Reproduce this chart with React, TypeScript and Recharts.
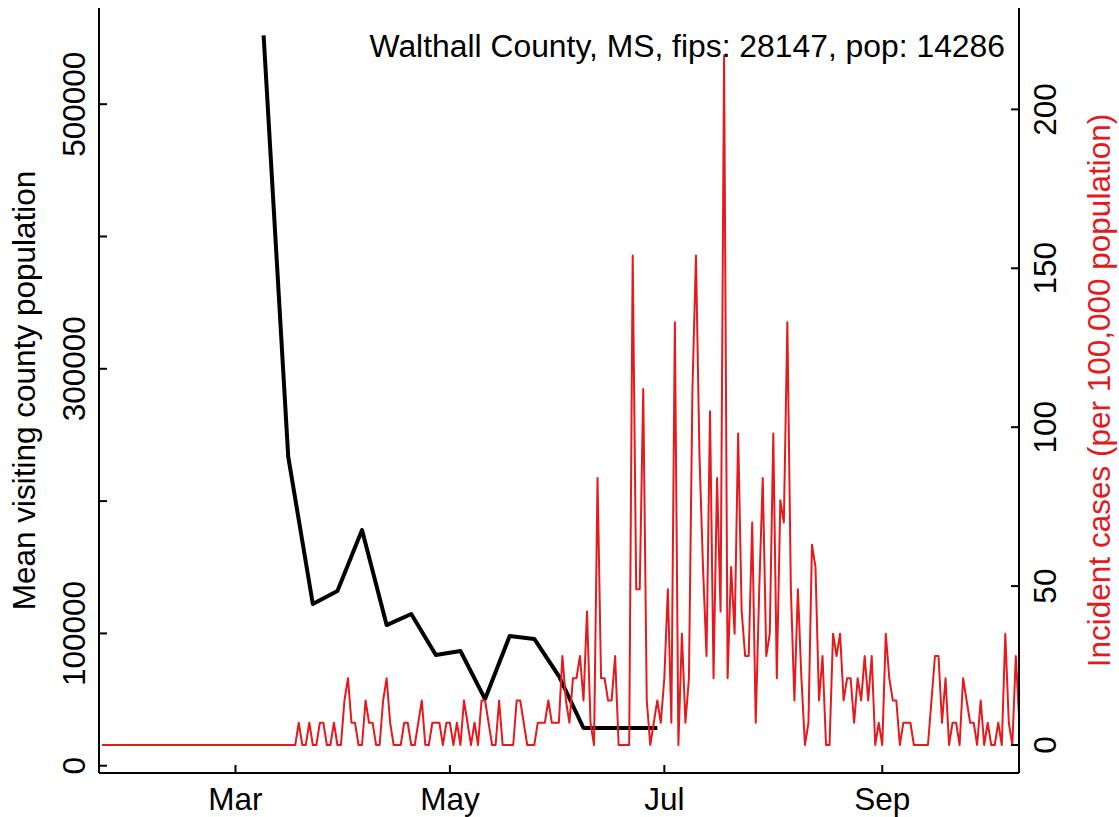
import React from "react";
import { ComposedChart, Line, XAxis, YAxis, Label } from "recharts";

const FONT = "'Liberation Sans', Arial, Helvetica, sans-serif";
const RED = "#e41a1c";
const FS = 31.5;

// x axis: days since 1 March 2020
const monthTicks = [0, 61, 122, 184];
const monthLabels = ["Mar", "May", "Jul", "Sep"];

const leftTicks = [0, 100000, 200000, 300000, 400000, 500000];
const leftLabelled = [0, 100000, 300000, 500000];
const rightTicks = [0, 50, 100, 150, 200];

const title = "Walthall County, MS, fips: 28147, pop: 14286";

// weekly mean visiting population
const visitDates = [
  "2020-03-09", "2020-03-16", "2020-03-23", "2020-03-30", "2020-04-06",
  "2020-04-13", "2020-04-20", "2020-04-27", "2020-05-04", "2020-05-11",
  "2020-05-18", "2020-05-25", "2020-06-01", "2020-06-08", "2020-06-15",
  "2020-06-22", "2020-06-29",
];
const visitValues = [
  552000, 233600, 122200, 132000, 178100, 106300, 114700, 83700, 86700,
  50400, 98000, 95800, 67800, 28500, 28500, 28500, 28500,
];

// daily incident cases per 100k, first value on caseStartDate
const caseStartDate = "2020-01-23";
const caseValues = [
  // Jan 23 - Mar 18
  0, 0, 0, 0, 0, 0, 0, 0, 0, 0, 0, 0, 0, 0, 0, 0, 0, 0, 0, 0,
  0, 0, 0, 0, 0, 0, 0, 0, 0, 0, 0, 0, 0, 0, 0, 0, 0, 0, 0, 0,
  0, 0, 0, 0, 0, 0, 0, 0, 0, 0, 0, 0, 0, 0, 0, 0,
  // Mar 19 -
  7, 0, 0, 7, 0, 0, 7, 7, 0, 0, 7, 0, 0, 14, 21, 7, 7, 0, 0, 14,
  7, 7, 0, 0, 14, 21, 7, 0, 0, 0, 7, 7, 0, 0, 7, 14, 0, 0, 7, 7,
  7, 0, 7, 7, 0, 7, 0, 14, 7, 0, 7, 0, 14, 14, 7, 0, 0, 14, 0, 0,
  0, 0, 14, 14, 7, 0, 0, 0, 7, 7, 7, 14, 7, 7, 7, 28, 14, 7, 21, 21,
  28, 14, 42, 7, 0, 84, 21, 21, 14, 14, 28, 0, 0, 0, 0, 154, 49, 49, 112, 14,
  0, 7, 14, 7, 21, 49, 7, 133, 0, 35, 7, 21, 112, 154, 91, 56, 28, 105, 21, 84,
  42, 217, 21, 56, 35, 98, 42, 28, 28, 70, 7, 49, 84, 28, 35, 98, 21, 77, 70, 133,
  49, 14, 49, 21, 0, 7, 63, 56, 14, 28, 0, 0, 35, 28, 35, 14, 21, 21, 7, 21,
  14, 28, 14, 28, 0, 7, 0, 35, 21, 14, 14, 0, 7, 7, 7, 0, 0, 0, 0, 0,
  14, 28, 28, 7, 21, 0, 7, 7, 0, 21, 14, 7, 7, 0, 14, 0, 7, 0, 0, 7,
  0, 35, 7, 0, 28, 7,
];

const MAR1 = Date.UTC(2020, 2, 1);
const dayOf = (iso: string) => Math.round((Date.parse(iso) - MAR1) / 86400000);

const visitData = visitDates.map((d, i) => ({ day: dayOf(d), visitors: visitValues[i] }));
const caseStart = dayOf(caseStartDate);
const caseData = caseValues.map((v, i) => ({ day: caseStart + i, cases: v }));

const xDomain: [number, number] = [-38.83, 222.9];

const BottomTick = (props: any) => {
  const { x, y, payload } = props;
  const idx = monthTicks.indexOf(payload.value);
  return (
    <text x={x} y={y} textAnchor="middle" fontSize={FS} fontFamily={FONT} fill="#000">
      {monthLabels[idx]}
    </text>
  );
};

const SideTick = (props: any) => {
  const { x, y, payload, show } = props;
  if (show && !show.includes(payload.value)) return <g />;
  return (
    <text
      x={x}
      y={y}
      transform={`rotate(-90, ${x}, ${y})`}
      textAnchor="middle"
      fontSize={FS}
      fontFamily={FONT}
      fill="#000"
    >
      {payload.value}
    </text>
  );
};

const LeftTitle = (props: any) => {
  const vb = props.viewBox;
  const x = vb.x + 35;
  const y = vb.y + vb.height / 2;
  return (
    <text x={x} y={y} transform={`rotate(-90, ${x}, ${y})`} textAnchor="middle" fontSize={FS} fontFamily={FONT} fill="#000">
      Mean visiting county population
    </text>
  );
};

const RightTitle = (props: any) => {
  const vb = props.viewBox;
  const x = vb.x + 91;
  const y = vb.y + vb.height / 2;
  return (
    <text x={x} y={y} transform={`rotate(-90, ${x}, ${y})`} textAnchor="middle" fontSize={FS} fontFamily={FONT} fill={RED}>
      Incident cases (per 100,000 population)
    </text>
  );
};

export default function App() {
  return (
    <div style={{ position: "absolute", left: 0, top: 0, width: 1119, height: 817, background: "#fff" }}>
      <ComposedChart width={1119} height={817} margin={{ top: 8, right: 0, bottom: 0, left: 0 }}>
        <XAxis
          xAxisId="b"
          type="number"
          dataKey="day"
          domain={xDomain}
          allowDataOverflow
          ticks={monthTicks}
          interval={0}
          height={44}
          axisLine={{ stroke: "#000", strokeWidth: 2 }}
          tickLine={{ stroke: "#000", strokeWidth: 2 }}
          tickSize={-8}
          tickMargin={45}
          tick={<BottomTick />}
        />
        <XAxis
          xAxisId="t"
          orientation="top"
          type="number"
          dataKey="day"
          domain={xDomain}
          allowDataOverflow
          height={0}
          tick={false}
          tickLine={false}
          axisLine={{ stroke: "#000", strokeWidth: 2 }}
        />
        <YAxis
          yAxisId="l"
          type="number"
          domain={[-5500, 572700]}
          allowDataOverflow
          ticks={leftTicks}
          interval={0}
          width={99}
          axisLine={{ stroke: "#000", strokeWidth: 2 }}
          tickLine={{ stroke: "#000", strokeWidth: 2 }}
          tickSize={-8}
          tickMargin={22}
          tick={<SideTick show={leftLabelled} />}
          label={<Label content={<LeftTitle />} />}
        />
        <YAxis
          yAxisId="r"
          orientation="right"
          type="number"
          domain={[-8.81, 231.9]}
          allowDataOverflow
          ticks={rightTicks}
          interval={0}
          width={100}
          axisLine={{ stroke: "#000", strokeWidth: 2 }}
          tickLine={{ stroke: "#000", strokeWidth: 2 }}
          tickSize={-8}
          tickMargin={45}
          tick={<SideTick />}
          label={<Label content={<RightTitle />} />}
        />
        <Line
          xAxisId="b"
          yAxisId="l"
          data={visitData}
          dataKey="visitors"
          type="linear"
          stroke="#000"
          strokeWidth={4}
          strokeLinejoin="round"
          dot={false}
          isAnimationActive={false}
        />
        <Line
          xAxisId="b"
          yAxisId="r"
          data={caseData}
          dataKey="cases"
          type="linear"
          stroke={RED}
          strokeWidth={2}
          strokeLinejoin="round"
          dot={false}
          isAnimationActive={false}
        />
      </ComposedChart>
      <svg
        width={1119}
        height={817}
        style={{ position: "absolute", left: 0, top: 0, pointerEvents: "none" }}
      >
        <text x={1005} y={57} textAnchor="end" fontSize={31.85} fontFamily={FONT} fill="#000">
          {title}
        </text>
      </svg>
    </div>
  );
}
